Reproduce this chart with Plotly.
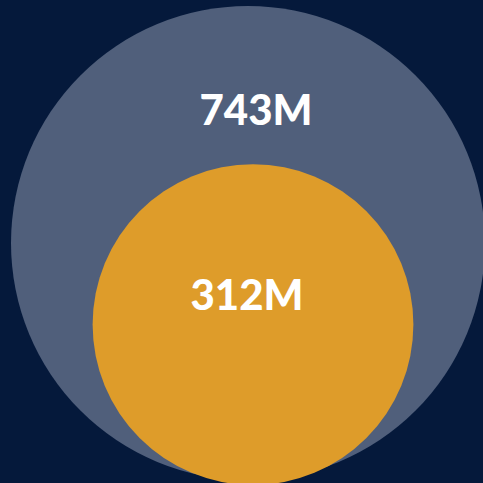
import plotly.graph_objects as go

# data
labels = ["743M", "312M"]
values = [743, 312]          # millions
colors = ["#505f7b", "#de9c2a"]

# layout/style constants
W = H = 483
BG = "#05193b"
R_MAX = 237.0                # radius of the largest bubble (px units)
EXP = 0.45                   # size scale exponent
CENTER_X = [248, 253]
BOTTOM = [480, 485]
LABEL_DY = [108, 135]        # label offset below bubble top

vmax = max(values)
radii = [R_MAX * (v / vmax) ** EXP for v in values]

fig = go.Figure()
shapes = []
lx, ly = [], []
for v, r, cx, b, c, dy in zip(values, radii, CENTER_X, BOTTOM, colors, LABEL_DY):
    cy = b - r
    shapes.append(dict(type="circle", xref="x", yref="y",
                       x0=cx - r, x1=cx + r, y0=cy - r, y1=cy + r,
                       fillcolor=c, line=dict(width=0), layer="below"))
    lx.append(cx + (8 if c == colors[0] else -6))
    ly.append(cy - r + dy)

fig.add_trace(go.Scatter(
    x=lx, y=ly, text=labels, mode="text",
    textfont=dict(family="Lato", size=42, color="white", weight=900),
    hoverinfo="skip", showlegend=False))

fig.update_layout(
    width=W, height=H, margin=dict(l=0, r=0, t=0, b=0),
    paper_bgcolor=BG, plot_bgcolor=BG, shapes=shapes,
    xaxis=dict(range=[0, W], visible=False, fixedrange=True),
    yaxis=dict(range=[H, 0], visible=False, fixedrange=True),
    showlegend=False)

fig.write_html("out.html", config={"displayModeBar": False})
